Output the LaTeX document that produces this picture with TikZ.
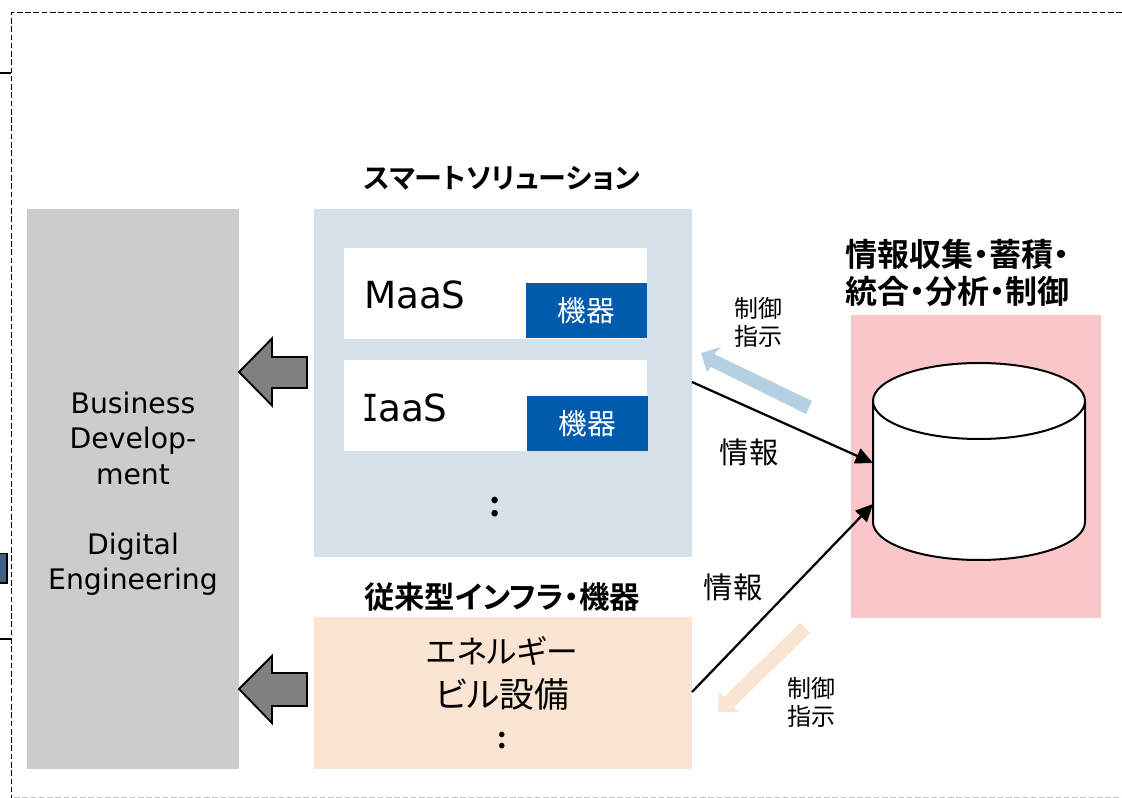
\documentclass[tikz,border=0pt]{standalone}
\usepackage{fontspec}
\setmainfont{DejaVu Sans}
\newfontfamily\cjk[RawFeature=+palt]{Noto Sans CJK JP}
\newfontfamily\cjkb[RawFeature=+palt,BoldFont={Noto Sans CJK JP Bold}]{Noto Sans CJK JP}
\newfontfamily\serifI[FakeStretch=0.72]{DejaVu Sans Mono}
\usetikzlibrary{arrows.meta}
\tikzset{
  x=0.75pt,y=-0.75pt,
  panel/.style={inner sep=0,outer sep=0,draw=none},
  txt/.style={inner sep=0,outer sep=0,align=center,text=black},
  head/.style={txt,font=\cjkb\bfseries\fontsize{21}{26}\selectfont},
  big/.style={txt,font=\fontsize{21.2}{26.4}\selectfont},
  latin/.style={txt,font=\fontsize{28}{30}\selectfont,anchor=west},
  jp/.style={txt,font=\cjk\fontsize{22}{26}\selectfont},
  small/.style={txt,font=\cjk\fontsize{18}{21}\selectfont},
  chip/.style={panel,fill=chipblue,text=white,font=\cjk\fontsize{21.5}{22}\selectfont},
  dots/.style={txt,font=\cjkb\bfseries\fontsize{26}{26}\selectfont},
  flow/.style={draw=black,line width=1.7pt,-{Triangle[length=13pt,width=12pt]}},
  blockarrow/.style={draw=black,line width=1.4pt,fill=black!50,line join=miter},
  dashline/.style={draw=black,line width=1.1pt,dash pattern=on 4.2pt off 2pt},
}
\definecolor{chipblue}{HTML}{005BAC}
\definecolor{solblue}{HTML}{D5E0E9}
\definecolor{infra}{HTML}{FAE5D3}
\definecolor{pinkbox}{HTML}{FAC6C8}
\definecolor{greybox}{HTML}{CCCCCC}
\definecolor{ctlblue}{HTML}{B4D0E2}
\definecolor{stub}{HTML}{3F6080}
\begin{document}
\begin{tikzpicture}
\useasboundingbox (0,0) rectangle (1122,798);
\fill[white] (0,0) rectangle (1122,798);
% outer dashed frame
\coordinate (fa) at (1122,12.5); \coordinate (fb) at (11.5,12.5); \coordinate (fc) at (11.5,798);
\draw[dashline] (fa) -- (fb) -- (fc);
\draw[draw=black!25,line width=0.8pt,dash pattern=on 4.2pt off 2pt] (14,797.3) -- (1122,797.3);
% off-page fragments on the left
\draw[black,line width=1.8pt] (0,73) -- (11,73);
\draw[black,line width=1pt] (0,639) -- (11,639);
\draw[draw=black,line width=1.1pt,fill=stub] (-5,553.5) rectangle (7,583);
% panels
\node[panel,fill=greybox,anchor=north west,minimum width=159pt,minimum height=420pt] (biz) at (27,209) {};
\node[panel,fill=solblue,anchor=north west,minimum width=283.5pt,minimum height=261pt] (sol) at (314,209) {};
\node[panel,fill=white,anchor=north west,minimum width=227.25pt,minimum height=68.25pt] (maas) at (344,248) {};
\node[panel,fill=white,anchor=north west,minimum width=227.25pt,minimum height=68.25pt] (iaas) at (344,360) {};
\node[chip,anchor=north west,minimum width=90.75pt,minimum height=41.25pt] (chipa) at (526,283) {機器};
\node[chip,anchor=north west,minimum width=90.75pt,minimum height=41.25pt] (chipb) at (527,396) {機器};
\node[panel,fill=infra,anchor=north west,minimum width=283.5pt,minimum height=114pt] (inf) at (314,617) {};
\node[panel,fill=pinkbox,anchor=north west,minimum width=187.5pt,minimum height=227.25pt] (pink) at (851,315) {};
% cylinder
\draw[draw=black,line width=1.5pt,fill=white] (873,401) -- (873,522) arc[start angle=180,end angle=360,x radius=106,y radius=-38] -- (1085,401) arc[start angle=0,end angle=360,x radius=106,y radius=-38];
\coordinate (dbtop) at (873,463);
\coordinate (dbbot) at (873,504);
\coordinate (solout) at (692,382);
\coordinate (infout) at (692,692);
% block arrows
\draw[blockarrow] (239,372) -- (272,338.5) -- (272,357) -- (307,357) -- (307,388) -- (272,388) -- (272,405.5) -- cycle;
\draw[blockarrow] (239,689) -- (272,656) -- (272,673) -- (307,673) -- (307,706) -- (272,706) -- (272,723) -- cycle;
% pale control arrows
\fill[ctlblue] (812,401) -- (806,414) -- (711,367) -- (707,372) -- (701,353) -- (721,347) -- (714,354) -- cycle;
\fill[infra] (800,623) -- (810,633) -- (734,707) -- (739,712) -- (718,712) -- (719,691) -- (724,697) -- cycle;
% connectors
\draw[flow] (solout) -- (dbtop);
\draw[flow] (infout) -- (dbbot);
% texts
\node[head] (h1) at (502,178) {スマートソリューション};
\node[head,font=\cjkb\bfseries\fontsize{22.8}{26}\selectfont] (h2) at (502,597) {従来型インフラ・機器};
\node[head,anchor=west,align=left,font=\cjkb\bfseries\fontsize{24}{27.7}\selectfont] (h3) at (845,273) {情報収集・蓄積・\\統合・分析・制御};
\node[big] (bt) at (133,494) {Business\\Develop-\\ment\\~\\Digital\\Engineering};
\node[latin] (mt) at (364,295) {MaaS};
\node[latin] (it) at (362,408) {{\serifI I}aaS};
\node[dots] (d1) at (495,507) {:};
\node[jp,font=\cjk\fontsize{23.8}{30}\selectfont] (et) at (502,651) {エネルギー};
\node[jp,font=\cjk\fontsize{26}{30}\selectfont] (bs) at (502,694) {ビル設備};
\node[dots,font=\cjkb\bfseries\fontsize{22}{26}\selectfont] (d2) at (502,741) {:};
\node[jp] (i1) at (749,452) {情報};
\node[jp] (i2) at (733,587) {情報};
\node[small] (c1) at (758,322) {制御\\指示};
\node[small] (c2) at (811,702) {制御\\指示};
\end{tikzpicture}
\end{document}
